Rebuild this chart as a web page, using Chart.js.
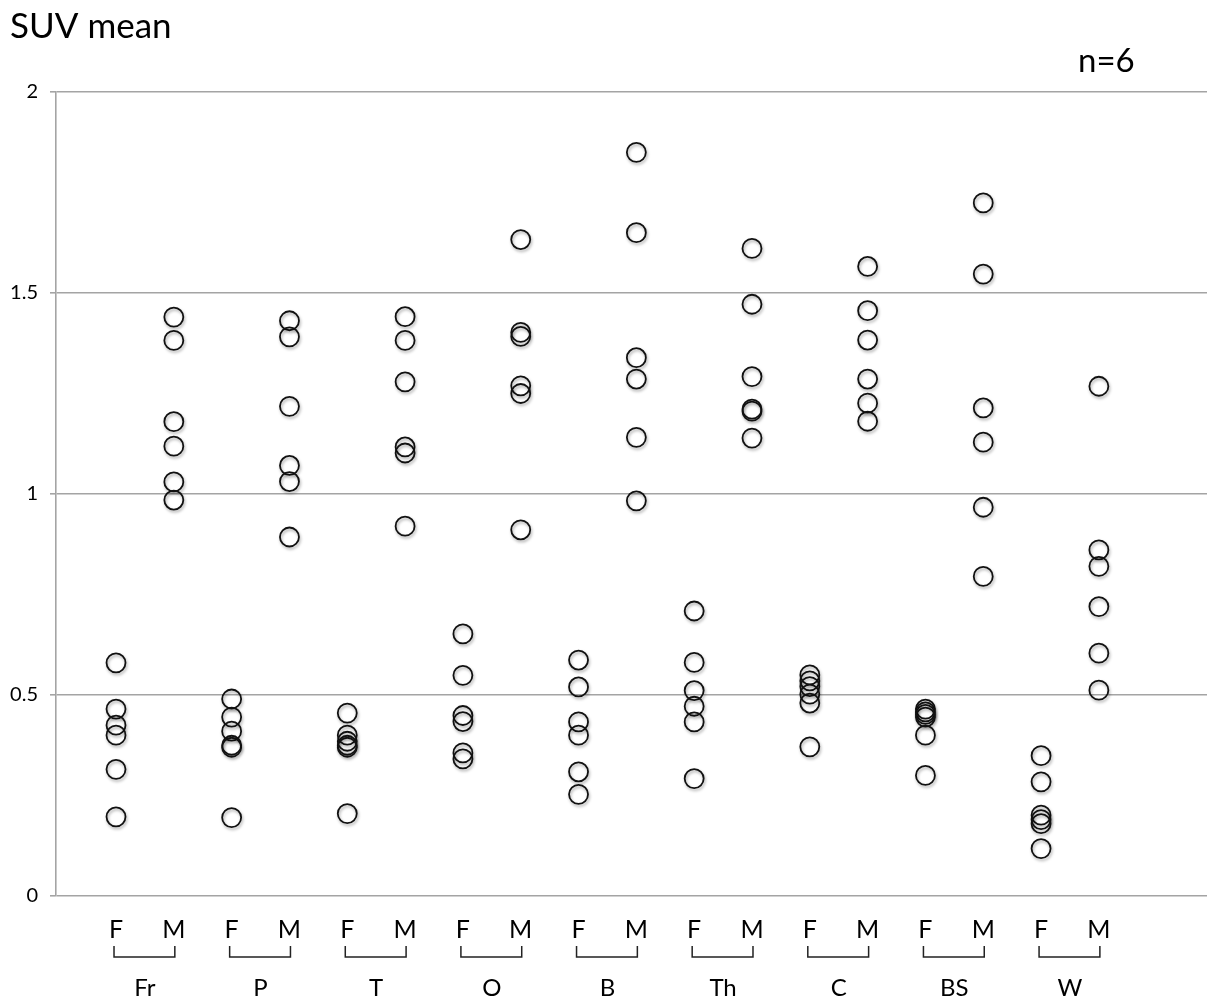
<!DOCTYPE html>
<html>
<head>
<meta charset="utf-8">
<script src="https://cdn.jsdelivr.net/npm/chart.js@4/dist/chart.umd.min.js"></script>
<style>
  html, body { margin: 0; padding: 0; background: #ffffff; }
  #wrap { width: 1207px; height: 1000px; }
</style>
</head>
<body>
<div id="wrap"><canvas id="c" width="1207" height="1000"></canvas></div>
<script>
// ---- data ----
const groups = ['Fr', 'P', 'T', 'O', 'B', 'Th', 'C', 'BS', 'W'];
const sexLabels = ['F', 'M'];
const femaleValues = [
  [0.58, 0.465, 0.425, 0.40, 0.315, 0.197],   // Fr
  [0.49, 0.445, 0.41, 0.375, 0.37, 0.195],    // P
  [0.455, 0.40, 0.385, 0.375, 0.37, 0.205],   // T
  [0.652, 0.549, 0.449, 0.434, 0.356, 0.341], // O
  [0.587, 0.52, 0.433, 0.40, 0.309, 0.253],   // B
  [0.709, 0.581, 0.511, 0.472, 0.433, 0.292], // Th
  [0.55, 0.535, 0.521, 0.502, 0.48, 0.371],   // C
  [0.465, 0.458, 0.452, 0.445, 0.40, 0.30],   // BS
  [0.349, 0.284, 0.201, 0.19, 0.18, 0.118]    // W
];
const maleValues = [
  [1.44, 1.382, 1.18, 1.119, 1.03, 0.985],    // Fr
  [1.431, 1.391, 1.218, 1.071, 1.031, 0.893], // P
  [1.441, 1.382, 1.279, 1.117, 1.102, 0.92],  // T
  [1.633, 1.402, 1.392, 1.269, 1.25, 0.911],  // O
  [1.85, 1.65, 1.339, 1.286, 1.141, 0.983],   // B
  [1.611, 1.472, 1.292, 1.211, 1.206, 1.139], // Th
  [1.566, 1.456, 1.383, 1.286, 1.226, 1.181], // C
  [1.724, 1.547, 1.214, 1.129, 0.967, 0.795], // BS
  [1.268, 0.861, 0.82, 0.72, 0.604, 0.512]    // W
];
const yTicks = [0, 0.5, 1, 1.5, 2];
const titleText = 'SUV mean';
const noteText = 'n=6';

// ---- build points: x = slot index (F = 2g, M = 2g+1) ----
const points = [];
groups.forEach((g, gi) => {
  femaleValues[gi].forEach(v => points.push({ x: gi * 2, y: v }));
  maleValues[gi].forEach(v => points.push({ x: gi * 2 + 1, y: v }));
});
const slotValues = [];
for (let i = 0; i < groups.length * 2; i++) slotValues.push(i);

const FONT = 'Lato, "Open Sans", "DejaVu Sans", sans-serif';

const extras = {
  id: 'extras',
  beforeDatasetsDraw(chart) {
    const ctx = chart.ctx;
    ctx.save();
    ctx.shadowColor = 'rgba(0,0,0,0.35)';
    ctx.shadowBlur = 3;
    ctx.shadowOffsetX = 1;
    ctx.shadowOffsetY = 2;
  },
  afterDatasetsDraw(chart) {
    chart.ctx.restore();
  },
  afterDraw(chart) {
    const ctx = chart.ctx;
    const xs = chart.scales.x;
    ctx.save();
    ctx.fillStyle = '#000';
    ctx.textBaseline = 'alphabetic';
    ctx.textAlign = 'left';
    ctx.font = '35px ' + FONT;
    ctx.fillText(titleText, 10, 38);
    ctx.font = '33px ' + FONT;
    ctx.fillText(noteText, 1078, 72);

    ctx.strokeStyle = '#222';
    ctx.lineWidth = 1.5;
    ctx.font = '24px ' + FONT;
    ctx.textAlign = 'center';
    ctx.textBaseline = 'middle';
    groups.forEach((g, gi) => {
      const xF = xs.getPixelForValue(gi * 2);
      const xM = xs.getPixelForValue(gi * 2 + 1);
      ctx.beginPath();
      ctx.moveTo(xF - 2, 946);
      ctx.lineTo(xF - 2, 957);
      ctx.lineTo(xM + 1, 957);
      ctx.lineTo(xM + 1, 946);
      ctx.stroke();
      ctx.fillText(g, (xF + xM) / 2, 988);
    });
    ctx.restore();
  }
};

new Chart(document.getElementById('c'), {
  type: 'scatter',
  data: {
    datasets: [{
      data: points,
      pointRadius: 9.5,
      pointHoverRadius: 9.5,
      pointBorderWidth: 1.8,
      pointBorderColor: '#111',
      pointBackgroundColor: 'rgba(0,0,0,0)'
    }]
  },
  options: {
    responsive: false,
    animation: false,
    events: [],
    layout: { autoPadding: false, padding: { top: 92, right: 0, bottom: 0, left: 0 } },
    plugins: { legend: { display: false }, tooltip: { enabled: false }, title: { display: false } },
    scales: {
      x: {
        type: 'linear',
        min: -1.038,
        max: 18.87,
        afterBuildTicks(s) { s.ticks = slotValues.map(v => ({ value: v })); },
        afterFit(s) { s.height = 104; s.paddingLeft = 0; s.paddingRight = 0; },
        grid: { display: false, drawTicks: false },
        border: { display: false },
        ticks: {
          padding: 19,
          autoSkip: false,
          maxRotation: 0,
          color: '#000',
          font: { family: FONT, size: 25 },
          callback: (v) => sexLabels[v % 2]
        }
      },
      y: {
        min: 0,
        max: 2,
        afterBuildTicks(s) { s.ticks = yTicks.map(v => ({ value: v })); },
        afterFit(s) { s.width = 56; s.paddingTop = 0; s.paddingBottom = 0; },
        grid: { color: '#a4a4a4', lineWidth: 1.6, tickLength: 6, drawTicks: true },
        border: { display: true, color: '#a4a4a4', width: 1.6 },
        ticks: {
          padding: 12,
          color: '#000',
          font: { family: FONT, size: 20 },
          callback: (v) => String(v)
        }
      }
    }
  },
  plugins: [extras]
});
</script>
</body>
</html>
